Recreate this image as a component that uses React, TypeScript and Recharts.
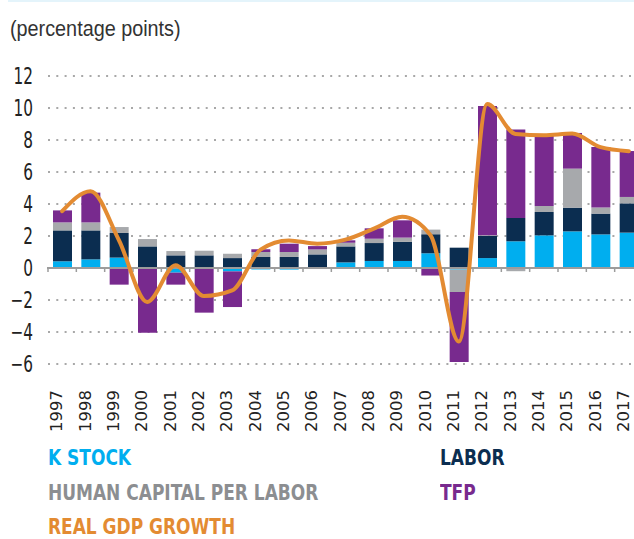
import { ComposedChart, Bar, Line, XAxis, YAxis, CartesianGrid, ReferenceLine } from 'recharts'

const years = [
  '1997', '1998', '1999', '2000', '2001', '2002', '2003', '2004', '2005', '2006', '2007',
  '2008', '2009', '2010', '2011', '2012', '2013', '2014', '2015', '2016', '2017',
]
const kStock = [0.42, 0.54, 0.65, -0.05, -0.29, 0.05, -0.21, -0.1, -0.1, 0.03, 0.35, 0.44, 0.44, 0.92, -0.1, 0.62, 1.67, 2.04, 2.29, 2.1, 2.21]
const labor = [1.93, 1.81, 1.54, 1.35, 0.79, 0.74, 0.62, 0.69, 0.69, 0.82, 1.0, 1.12, 1.19, 1.19, 1.27, 1.38, 1.46, 1.46, 1.48, 1.3, 1.83]
const humanCapital = [0.5, 0.5, 0.37, 0.46, 0.27, 0.29, 0.27, 0.31, 0.31, 0.31, 0.23, 0.27, 0.27, 0.29, -1.4, 0.05, -0.2, 0.38, 2.44, 0.38, 0.4]
const tfp = [0.75, 1.86, -1.04, -3.99, -0.75, -2.79, -2.23, 0.17, 0.52, 0.21, 0.15, 0.65, 1.08, -0.47, -4.38, 8.08, 5.52, 4.42, 2.23, 3.79, 2.87]
const gdp = [3.55, 4.8, 1.75, -2.12, 0.17, -1.75, -1.4, 1.15, 1.72, 1.52, 1.77, 2.46, 3.2, 2.05, -4.6, 10.25, 8.38, 8.3, 8.4, 7.55, 7.3]
const yTicks = [-6, -4, -2, 0, 2, 4, 6, 8, 10, 12]

const data = years.map((year, i) => ({
  year,
  kStock: kStock[i],
  labor: labor[i],
  humanCapital: humanCapital[i],
  tfp: tfp[i],
  gdp: gdp[i],
}))

const COND = "'DejaVu Sans Condensed', 'DejaVu Sans', sans-serif"

const C_K = '#00AEEF'
const C_LABOR = '#0B2D50'
const C_HC = '#A7A9AC'
const C_TFP = '#782A8E'
const C_GDP = '#E38B32'

function YearTick({ x, y, payload }: any) {
  return (
    <text
      transform={`translate(${x},${y + 26}) rotate(-90)`}
      textAnchor="end"
      fontSize={16.5}
      fontFamily="'DejaVu Sans', sans-serif"
      fill="#222"
    >
      {payload.value}
    </text>
  )
}

function ValueTick({ x, y, payload }: any) {
  const v = payload.value as number
  return (
    <text
      transform={`translate(${x},${y}) scale(0.74,1)`}
      textAnchor="end"
      dy="0.36em"
      fontSize={23}
      fontFamily={COND}
      fill="#222"
    >
      {v < 0 ? `\u2212${-v}` : `${v}`}
    </text>
  )
}

function ZeroAxis(props: any) {
  const { x1, y1, x2 } = props
  const step = (x2 - x1) / years.length
  return (
    <g>
      <line x1={x1 - 1} y1={y1} x2={x2} y2={y1} stroke="#9c9c9c" strokeWidth={2} />
      {years.map((_, i) => (
        <line key={i} x1={x1 + i * step} x2={x1 + i * step} y1={y1} y2={y1 + 4} stroke="#9c9c9c" strokeWidth={1.5} />
      ))}
    </g>
  )
}

const legendText = {
  position: 'absolute' as const,
  whiteSpace: 'nowrap' as const,
  transform: 'scaleX(0.9)',
  transformOrigin: 'left center',
}

function App() {
  return (
    <div style={{ position: 'fixed', left: 0, top: 0, width: 634, height: 539, overflow: 'hidden', background: '#fff' }}>
      <div style={{ position: 'absolute', left: 8, top: 0, right: 0, height: 2, background: '#e4f4fb' }} />
      <div
        style={{
          position: 'absolute',
          left: 10,
          top: 17,
          fontSize: 22,
          lineHeight: '24px',
          fontFamily: "'Liberation Sans', sans-serif",
          color: '#333',
          whiteSpace: 'nowrap',
          transform: 'scaleX(0.9)',
          transformOrigin: 'left center',
        }}
      >
        (percentage points)
      </div>
      <div style={{ position: 'absolute', left: 0, top: 0 }}>
        <ComposedChart
          width={660}
          height={450}
          data={data}
          stackOffset="sign"
          margin={{ top: 76, right: 17, bottom: 0, left: 8 }}
          barSize={19}
        >
          <CartesianGrid
            vertical={false}
            stroke="#a8a8a8"
            strokeWidth={2}
            strokeDasharray="2 6.3"
          />
          <XAxis
            dataKey="year"
            height={86}
            axisLine={false}
            tickLine={false}
            tickSize={0}
            tickMargin={0}
            interval={0}
            tick={<YearTick />}
          />
          <YAxis
            domain={[-6, 12]}
            ticks={yTicks}
            width={40}
            axisLine={false}
            tickLine={false}
            tickSize={0}
            tickMargin={15}
            tick={<ValueTick />}
          />
          <ReferenceLine y={0} shape={ZeroAxis} />
          <Bar dataKey="kStock" stackId="a" fill={C_K} isAnimationActive={false} />
          <Bar dataKey="labor" stackId="a" fill={C_LABOR} isAnimationActive={false} />
          <Bar dataKey="humanCapital" stackId="a" fill={C_HC} isAnimationActive={false} />
          <Bar dataKey="tfp" stackId="a" fill={C_TFP} isAnimationActive={false} />
          <Line
            dataKey="gdp"
            type="monotone"
            stroke={C_GDP}
            strokeWidth={4}
            strokeLinecap="round"
            dot={false}
            activeDot={false}
            isAnimationActive={false}
          />
        </ComposedChart>
      </div>
      <div
        style={{
          position: 'absolute',
          left: 0,
          top: 0,
          fontFamily: COND,
          fontWeight: 700,
          fontSize: 21,
          lineHeight: '18px',
        }}
      >
        <div style={{ ...legendText, left: 48, top: 449, color: C_K }}>K STOCK</div>
        <div style={{ ...legendText, left: 440, top: 449, color: C_LABOR }}>LABOR</div>
        <div style={{ ...legendText, left: 48, top: 484, color: '#8C8E91' }}>HUMAN CAPITAL PER LABOR</div>
        <div style={{ ...legendText, left: 440, top: 484, color: C_TFP }}>TFP</div>
        <div style={{ ...legendText, left: 48, top: 518, color: C_GDP }}>REAL GDP GROWTH</div>
      </div>
    </div>
  )
}

export default App
